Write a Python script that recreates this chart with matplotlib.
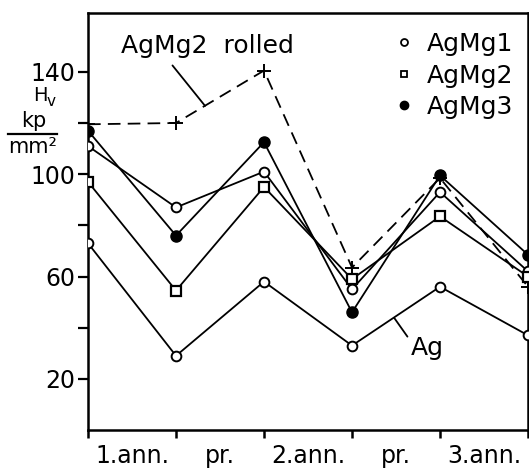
import numpy as np
import matplotlib
matplotlib.use('Agg')
import matplotlib.pyplot as plt
from matplotlib.lines import Line2D

# positions along the treatment sequence (tick marks)
steps = [0, 1, 2, 3, 4, 5]
step_labels = ['1.ann.', 'pr.', '2.ann.', 'pr.', '3.ann.']

# Vickers hardness, kp/mm^2
hv_ag = [73, 29, 58, 33, 56, 37]
hv_agmg1 = [111, 87, 101, 55, 93, 62]
hv_agmg2 = [97, 54.5, 95, 59, 83.5, 60]
hv_agmg3 = [117, 76, 112.5, 46, 99.5, 68.5]
hv_agmg2_rolled = [119.5, 120, 140.5, 63.5, 98.5, 56]

yticks = [20, 40, 60, 80, 100, 120, 140]
ytick_labels = ['20', '', '60', '', '100', '', '140']

plt.rcParams['font.family'] = ['DejaVu Sans']
fs = 17

fig = plt.figure(figsize=(5.29, 4.68), dpi=100)
ax = fig.add_axes([88/529, 38/468, 440/529, 417/468])

lw = 1.3
ax.plot(steps, hv_agmg2_rolled, color='black', lw=lw, dashes=(7, 4),
        marker='+', ms=10, mew=1.4, zorder=2)
ax.plot(steps, hv_ag, color='black', lw=lw, marker='o', ms=7,
        mfc='white', mew=1.4, zorder=3)
ax.plot(steps, hv_agmg1, color='black', lw=lw, marker='o', ms=7,
        mfc='white', mew=1.4, zorder=3)
ax.plot(steps, hv_agmg2, color='black', lw=lw, marker='s', ms=6.5,
        mfc='white', mew=1.6, zorder=3)
ax.plot(steps, hv_agmg3, color='black', lw=lw, marker='o', ms=8,
        mfc='black', mew=1.0, zorder=4)

ax.set_xlim(0, 5)
ax.set_ylim(0, 163)

ax.set_xticks(steps)
ax.set_xticklabels([])
ax.set_xticks([s + 0.5 for s in steps[:-1]], minor=True)
ax.set_xticklabels(step_labels, minor=True, fontsize=fs)
ax.tick_params(axis='x', which='minor', length=0, pad=10)
ax.tick_params(axis='x', which='major', length=6, width=1.8, direction='out')

ax.set_yticks(yticks)
ax.set_yticklabels(ytick_labels, fontsize=fs)
ax.tick_params(axis='y', length=7, width=1.6, direction='out', pad=2)

for sp in ax.spines.values():
    sp.set_linewidth(1.8)

# labels with leader lines
ax.text(1.36, 150, 'AgMg2  rolled', fontsize=fs + 1, ha='center', va='center')
ax.annotate('', xy=(1.33, 126.7), xytext=(0.96, 142.5),
            arrowprops=dict(arrowstyle='-', lw=1.3, color='black',
                            shrinkA=0, shrinkB=0))
ax.text(3.85, 32, 'Ag', fontsize=fs + 1, ha='center', va='center')
ax.annotate('', xy=(3.48, 43.8), xytext=(3.63, 36.5),
            arrowprops=dict(arrowstyle='-', lw=1.3, color='black',
                            shrinkA=0, shrinkB=0))

# legend
handles = [
    Line2D([], [], ls='none', marker='o', ms=5, mfc='white', mec='black', mew=1.3),
    Line2D([], [], ls='none', marker='s', ms=5, mfc='white', mec='black', mew=1.3),
    Line2D([], [], ls='none', marker='o', ms=6, mfc='black', mec='black'),
]
ax.legend(handles, ['AgMg1', 'AgMg2', 'AgMg3'], loc='upper right',
          bbox_to_anchor=(1.0, 0.99), frameon=False, fontsize=fs + 1,
          handlelength=0.8, handletextpad=0.5, labelspacing=0.3,
          borderaxespad=0.2)

# y-axis unit label: H_v  kp / mm^2
fig.text(40/529, 1 - 96/468, 'H', fontsize=14, ha='center', va='center')
fig.text(51/529, 1 - 102/468, 'v', fontsize=11, ha='center', va='center')
fig.text(34/529, 1 - 121/468, 'kp', fontsize=15, ha='center', va='center')
fig.add_artist(Line2D([8/529, 57/529], [1 - 134/468, 1 - 134/468],
                      color='black', lw=1.6, transform=fig.transFigure))
fig.text(33/529, 1 - 147/468, 'mm²', fontsize=15, ha='center', va='center')

fig.savefig('out.png', dpi=100)
